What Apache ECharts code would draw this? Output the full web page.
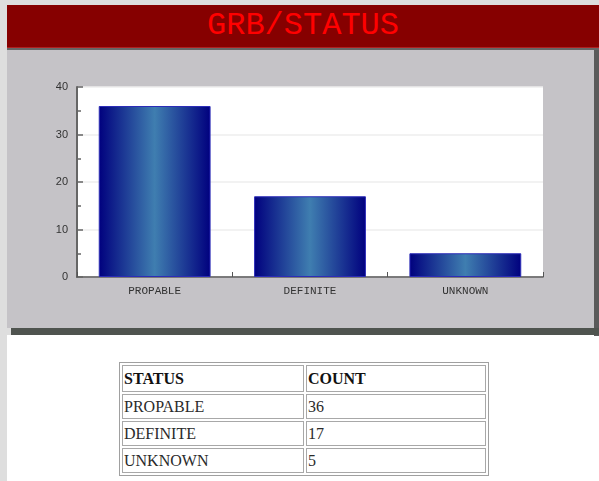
<!DOCTYPE html>
<html>
<head>
<meta charset="utf-8">
<script src="https://cdn.jsdelivr.net/npm/echarts@6/dist/echarts.min.js"></script>
<style>
  html, body { margin: 0; padding: 0; }
  body { width: 599px; height: 481px; background: #dedede; position: relative; overflow: hidden; }
  #titlebar { position: absolute; left: 7px; top: 5px; width: 592px; height: 42px; background: #860000;
    border-bottom: 1px solid #b02020; color: #ff0000; font-family: "Liberation Mono", "DejaVu Sans Mono", monospace;
    font-size: 32px; line-height: 42px; text-align: center; }
  #topline { position: absolute; left: 7px; top: 48px; width: 592px; height: 2px; background: #666; }
  #panel { position: absolute; left: 7px; top: 50px; width: 587px; height: 278px; background: #c5c3c7; }
  #rshadow { position: absolute; left: 594px; top: 50px; width: 5px; height: 286px; background: #5a5a5a; }
  #bshadow { position: absolute; left: 11px; top: 328px; width: 588px; height: 7px; background: #4f544f; }
  #white { position: absolute; left: 7px; top: 335px; width: 592px; height: 146px; background: #fff; }
  #chart { position: absolute; left: 0; top: 0; width: 599px; height: 340px; }
  #tbl { position: absolute; left: 119px; top: 362px; border-collapse: separate; border-spacing: 2px;
    border: 1px solid #a0a0a0; font-family: "Liberation Serif", "Times New Roman", serif; font-size: 16px; }
  #tbl td, #tbl th { border: 1px solid #a8a8a8; padding: 0 1px; text-align: left; height: 23px; color: #2a2a2a; }
  #tbl th { color: #111; font-weight: bold; height: 25px; }
  #tbl .c1 { width: 178px; }
  #tbl .c2 { width: 176px; }
</style>
</head>
<body>
<div id="white"></div>
<div id="titlebar">GRB/STATUS</div>
<div id="topline"></div>
<div id="panel"></div>
<div id="rshadow"></div>
<div id="bshadow"></div>
<div id="chart"></div>
<table id="tbl"></table>
<script>
var chartTitle = 'GRB/STATUS';
var categories = ['PROPABLE', 'DEFINITE', 'UNKNOWN'];
var counts = [36, 17, 5];
var tableHeader = ['STATUS', 'COUNT'];
var yMin = 0, yMax = 40, yStep = 10;

document.getElementById('titlebar').textContent = chartTitle;

var chart = echarts.init(document.getElementById('chart'), null, { renderer: 'canvas' });
chart.setOption({
  backgroundColor: 'transparent',
  animation: false,
  grid: { left: 77, top: 87, width: 466, height: 190, show: true, backgroundColor: '#ffffff', borderWidth: 0 },
  xAxis: {
    type: 'category',
    data: categories,
    axisLine: { lineStyle: { color: '#555', width: 1.5 } },
    axisTick: { show: true, inside: true, length: 5, lineStyle: { color: '#555' } },
    axisLabel: { color: '#333', fontFamily: 'Liberation Mono, monospace', fontSize: 11, margin: 9 },
    splitLine: { show: false }
  },
  yAxis: {
    type: 'value',
    min: yMin, max: yMax, interval: yStep,
    axisLine: { show: true, lineStyle: { color: '#666', width: 2 } },
    axisTick: { show: true, inside: true, length: 6, lineStyle: { color: '#666', width: 1.5 } },
    minorTick: { show: true, splitNumber: 2, length: 4, lineStyle: { color: '#666', width: 1.5 } },
    axisLabel: { color: '#333', fontFamily: 'Liberation Sans, Arial, sans-serif', fontSize: 11, margin: 9 },
    splitLine: { show: true, lineStyle: { color: '#eeeeee', width: 1.5 } }
  },
  series: [{
    type: 'bar',
    data: counts,
    barCategoryGap: '28%',
    itemStyle: {
      borderColor: '#2c2cb8',
      borderWidth: 1,
      color: new echarts.graphic.LinearGradient(0, 0, 1, 0, [
        { offset: 0, color: '#00007e' },
        { offset: 0.5, color: '#3f7eb0' },
        { offset: 1, color: '#00007e' }
      ])
    }
  }]
});

var tbl = document.getElementById('tbl');
var html = '<tr><th class="c1">' + tableHeader[0] + '</th><th class="c2">' + tableHeader[1] + '</th></tr>';
for (var i = 0; i < categories.length; i++) {
  html += '<tr><td>' + categories[i] + '</td><td>' + counts[i] + '</td></tr>';
}
tbl.innerHTML = html;
</script>
</body>
</html>
